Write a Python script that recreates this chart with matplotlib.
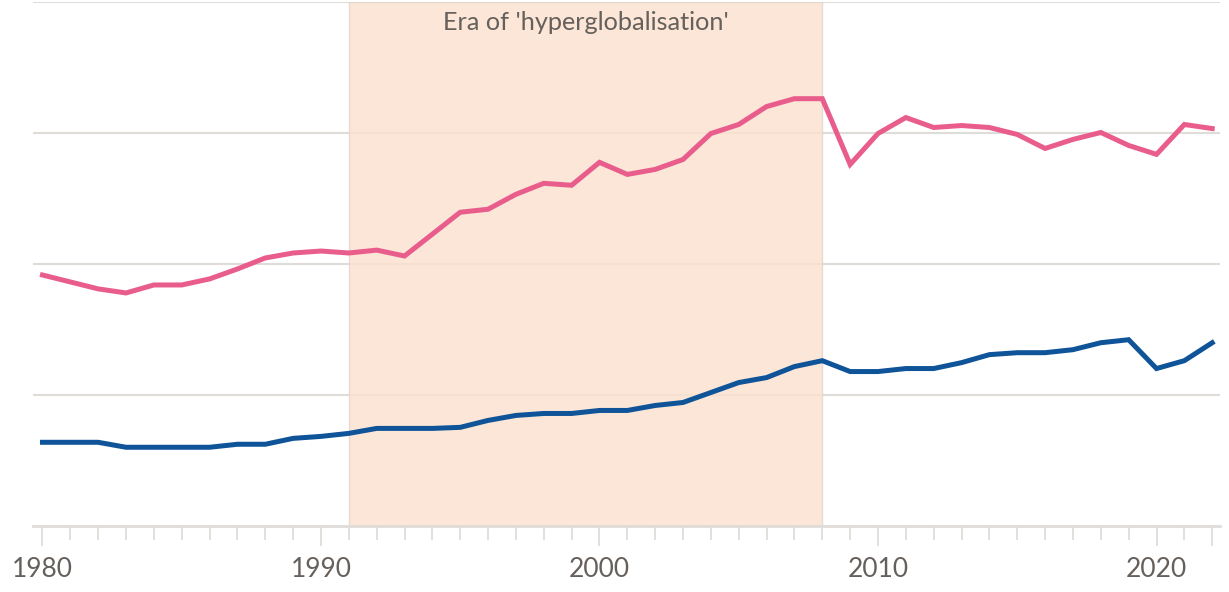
import matplotlib
matplotlib.use("Agg")
import matplotlib.pyplot as plt
from matplotlib.ticker import FixedLocator, NullFormatter

years = list(range(1980, 2023))

pink_values = [19.16, 18.63, 18.10, 17.79, 18.40, 18.40, 18.86, 19.62, 20.46, 20.84,
               20.99, 20.84, 21.06, 20.61, 22.28, 23.95, 24.18, 25.32, 26.16, 26.01,
               27.76, 26.84, 27.22, 27.98, 29.96, 30.65, 32.02, 32.62, 32.62, 27.60,
               29.96, 31.18, 30.42, 30.57, 30.42, 29.89, 28.82, 29.51, 30.04, 29.05,
               28.37, 30.65, 30.34]

blue_values = [6.39, 6.39, 6.39, 6.01, 6.01, 6.01, 6.01, 6.24, 6.24, 6.69,
               6.84, 7.07, 7.45, 7.45, 7.45, 7.53, 8.06, 8.44, 8.59, 8.59,
               8.82, 8.82, 9.20, 9.43, 10.19, 10.95, 11.33, 12.17, 12.62, 11.79,
               11.79, 12.02, 12.02, 12.47, 13.08, 13.23, 13.23, 13.46, 13.99, 14.22,
               12.02, 12.62, 13.99]

era_start, era_end = 1991, 2008
era_label = "Era of 'hyperglobalisation'"
major_ticks = [1980, 1990, 2000, 2010, 2020, 2022]
major_labels = ["1980", "1990", "2000", "2010", "2020", ""]
y_grid = [10, 20, 30, 40]

GRID = "#e0dcd8"
TEXT = "#66605c"
PINK = "#e95d8c"
BLUE = "#0f5499"

fig = plt.figure(figsize=(12.29, 5.92), dpi=100)
ax = fig.add_axes([33 / 1229, 66 / 592, 1187 / 1229, 524 / 592])

ax.set_xlim(1979.66, 2022.28)
ax.set_ylim(0, 40)

for v in y_grid:
    ax.axhline(v, color=GRID, lw=1.5, zorder=1)

ax.axvspan(era_start, era_end, facecolor="#fbe2d0", alpha=0.85,
           edgecolor="#e2d6ce", lw=1.0, zorder=1.5)

ax.text((era_start + era_end) / 2, 38.4, era_label, ha="center", va="center",
        fontsize=18.2, color=TEXT, family=["Lato", "DejaVu Sans"], zorder=3)

ax.plot(years, pink_values, color=PINK, lw=3.6, solid_joinstyle="miter", zorder=4)
ax.plot(years, blue_values, color=BLUE, lw=3.6, solid_joinstyle="miter", zorder=4)

for s in ["top", "right", "left"]:
    ax.spines[s].set_visible(False)
ax.spines["bottom"].set_color(GRID)
ax.spines["bottom"].set_linewidth(2.0)
ax.spines["bottom"].set_zorder(5)

ax.set_yticks([])
ax.xaxis.set_major_locator(FixedLocator(major_ticks))
ax.set_xticklabels(major_labels)
ax.xaxis.set_minor_locator(FixedLocator(years))
ax.xaxis.set_minor_formatter(NullFormatter())
ax.tick_params(axis="x", which="major", length=14.5, width=1.3, color=GRID,
               labelsize=19, labelcolor=TEXT, pad=8)
ax.tick_params(axis="x", which="minor", length=10, width=1.3, color=GRID)
for lab in ax.get_xticklabels():
    lab.set_family(["Lato", "DejaVu Sans"])

fig.savefig("out.png", dpi=100, facecolor="white")
